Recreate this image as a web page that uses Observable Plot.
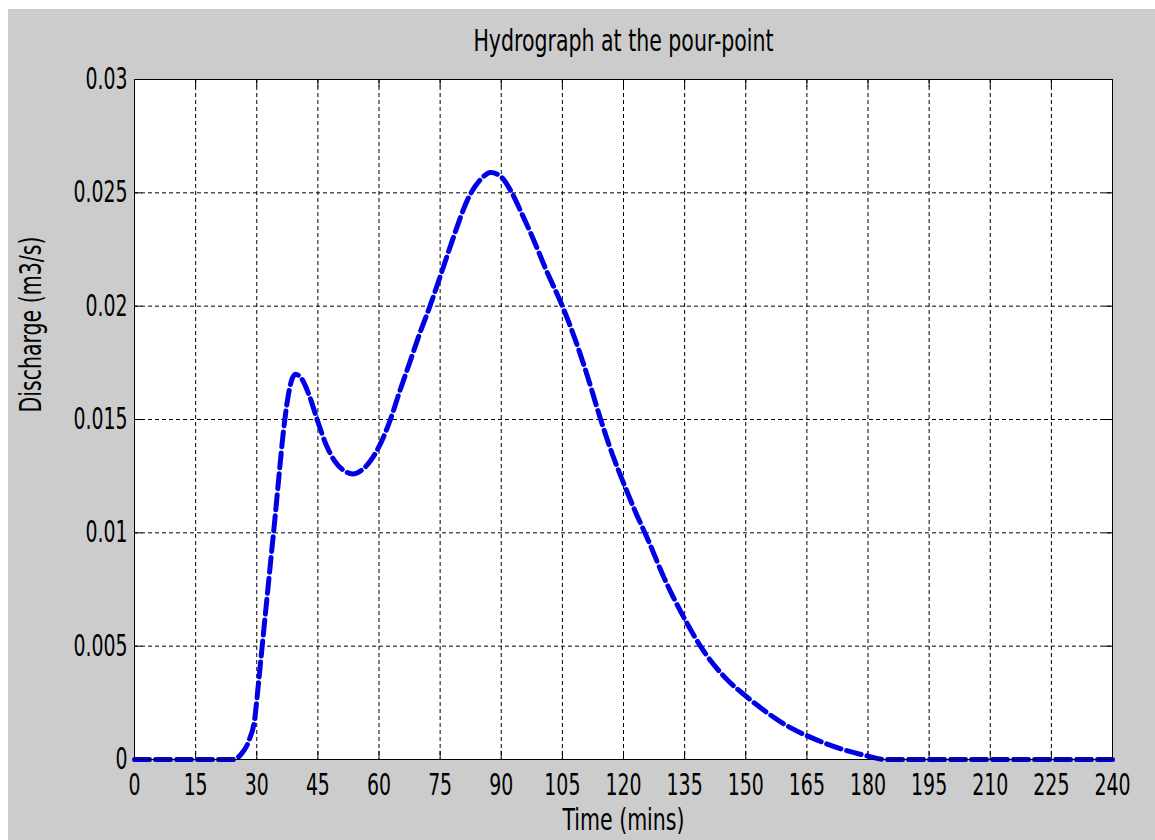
<!DOCTYPE html>
<html>
<head>
<meta charset="utf-8">
<script src="https://cdn.jsdelivr.net/npm/d3@7"></script>
<script src="https://cdn.jsdelivr.net/npm/@observablehq/plot@0.6"></script>
<style>
  html, body { margin: 0; padding: 0; background: #ffffff; }
  #chart { position: absolute; left: 8px; top: 9px; }
</style>
</head>
<body>
<div id="chart"></div>
<script>
const timeMins = [0, 10, 20, 24, 26, 28, 29.5, 30.5, 31.5, 32.5, 33.5, 34.5, 35.5, 36.5, 37.5, 38.5, 39.5, 41, 43, 45, 47, 49, 51, 53.5, 56, 58, 60, 62.8, 65, 67.7, 70, 72.5, 75, 78, 82, 85, 87.4, 90, 92.3, 95, 98, 101, 105, 108, 111, 114.4, 117, 120, 123, 126, 130, 135, 140, 145, 150, 155, 160, 165, 170, 175, 180, 184, 190, 200, 210, 220, 230, 240];
const discharge = [0, 0, 0, 0, 0.0002, 0.0008, 0.0018, 0.0035, 0.0053, 0.0071, 0.0089, 0.0107, 0.0126, 0.0144, 0.0158, 0.0167, 0.0170, 0.0168, 0.0160, 0.0149, 0.0139, 0.0132, 0.0128, 0.0126, 0.0128, 0.0132, 0.0138, 0.0150, 0.0162, 0.0176, 0.0188, 0.0200, 0.0213, 0.0229, 0.0248, 0.0256, 0.0259, 0.0257, 0.0251, 0.0241, 0.0229, 0.0216, 0.0200, 0.0186, 0.0170, 0.0150, 0.0136, 0.0122, 0.0109, 0.0097, 0.0080, 0.0062, 0.0047, 0.0036, 0.0028, 0.0021, 0.0015, 0.00105, 0.00068, 0.00038, 0.00015, 0, 0, 0, 0, 0, 0, 0];
const xTicks = [0, 15, 30, 45, 60, 75, 90, 105, 120, 135, 150, 165, 180, 195, 210, 225, 240];
const yTicks = [0, 0.005, 0.01, 0.015, 0.02, 0.025, 0.03];
const yTickLabels = ["0", "0.005", "0.01", "0.015", "0.02", "0.025", "0.03"];
const titleText = "Hydrograph at the pour-point";
const xLabel = "Time (mins)";
const yLabel = "Discharge (m3/s)";

const rows = timeMins.map((t, i) => ({t, q: discharge[i]}));

const W = 1147, H = 831;
const mL = 126, mR = 43, mT = 70, mB = 81;
const innerW = W - mL - mR, innerH = H - mT - mB;
const tick = 8;
const font = "'DejaVu Sans Condensed', 'DejaVu Sans', sans-serif";

const chart = Plot.plot({
  width: W,
  height: H,
  marginLeft: mL,
  marginRight: mR,
  marginTop: mT,
  marginBottom: mB,
  style: {background: "#cccccc", fontFamily: font, fontSize: "30px", color: "black"},
  x: {domain: [0, 240]},
  y: {domain: [0, 0.03]},
  marks: [
    Plot.frame({fill: "white", stroke: null}),
    Plot.gridX(xTicks, {stroke: "black", strokeOpacity: 1, strokeWidth: 1, strokeDasharray: "4,3"}),
    Plot.gridY(yTicks, {stroke: "black", strokeOpacity: 1, strokeWidth: 1, strokeDasharray: "4,3"}),
    Plot.tickX(xTicks, {x: d => d, stroke: "black", insetTop: innerH - tick}),
    Plot.tickX(xTicks, {x: d => d, stroke: "black", insetBottom: innerH - tick}),
    Plot.tickY(yTicks, {y: d => d, stroke: "black", insetRight: innerW - tick}),
    Plot.tickY(yTicks, {y: d => d, stroke: "black", insetLeft: innerW - tick}),
    Plot.line(rows, {x: "t", y: "q", stroke: "#0000e6", strokeWidth: 5, strokeDasharray: "15,6", curve: "monotone-x"}),
    Plot.frame({stroke: "black", strokeWidth: 1}),
    Plot.axisX({ticks: xTicks, tickSize: 0, tickPadding: 14, label: null, fontSize: 30, fill: "black"}),
    Plot.axisY({ticks: yTicks, tickSize: 0, tickPadding: 7, label: null, fontSize: 30, fill: "black",
      tickFormat: d => yTickLabels[yTicks.indexOf(d)]}),
    Plot.text([titleText], {frameAnchor: "top", dy: -38, lineAnchor: "middle", fontSize: 30, fill: "black"}),
    Plot.text([xLabel], {frameAnchor: "bottom", dy: 61, lineAnchor: "middle", fontSize: 30, fill: "black"}),
    Plot.text([yLabel], {frameAnchor: "left", dx: -103, dy: -7, rotate: -90, lineAnchor: "middle", fontSize: 30, fill: "black"})
  ]
});
document.getElementById("chart").appendChild(chart);

// Condense all text horizontally to mimic the narrow font of the original
chart.querySelectorAll("text").forEach(t => {
  const isTick = t.closest('g[aria-label="x-axis tick label"], g[aria-label="y-axis tick label"]');
  const f = isTick ? 0.70 : 0.76;
  const L = t.getComputedTextLength();
  if (L > 0) {
    t.setAttribute("textLength", (L * f).toFixed(1));
    t.setAttribute("lengthAdjust", "spacingAndGlyphs");
  }
});
</script>
</body>
</html>
